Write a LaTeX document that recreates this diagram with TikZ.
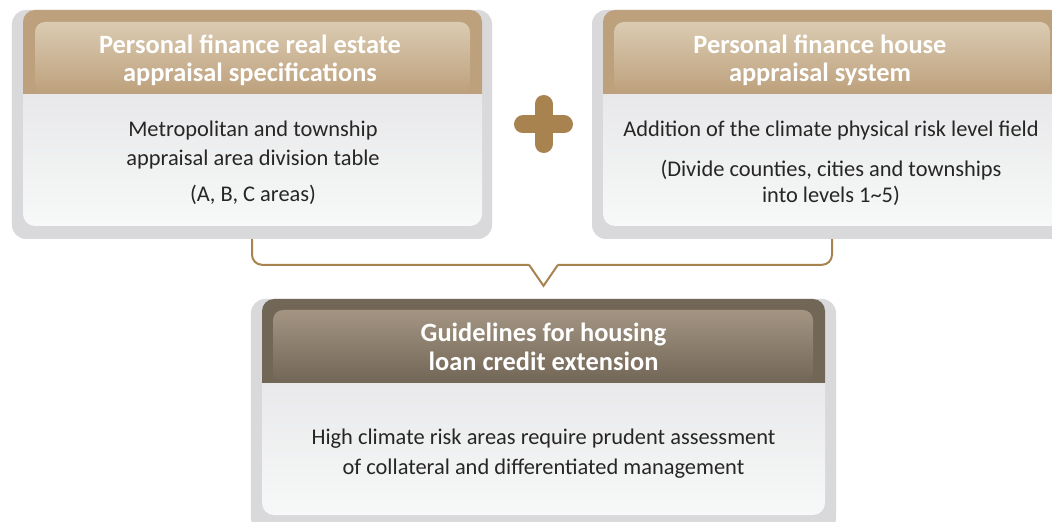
\documentclass[tikz,border=0pt]{standalone}
\usepackage{fontspec}
\setmainfont{Carlito}
\usetikzlibrary{calc}
\usetikzlibrary{positioning}
\definecolor{tanframe}{HTML}{BDA07C}
\definecolor{tanlight}{HTML}{DACBB2}
\definecolor{brownframe}{HTML}{726656}
\definecolor{brownlight}{HTML}{A49583}
\definecolor{shadowgray}{HTML}{D9D9DB}
\definecolor{bodytop}{HTML}{E4E4E6}
\definecolor{bodybottom}{HTML}{F7F8F8}
\definecolor{accent}{HTML}{A8834F}
\definecolor{textgray}{HTML}{262626}
\tikzset{
	shadowbox/.style={
		rectangle,
		rounded corners=14bp,
		fill=shadowgray,
		inner sep=0pt},
	headtext/.style={
		text=white,
		align=center,
		font=\fontsize{26.5}{28.5}\selectfont\bfseries},
	bodytext/.style={
		text=textgray,
		align=center,
		font=\fontsize{22.5}{30}\selectfont},
	panelbody/.style={
		rounded corners=12bp,
		top color=bodytop,
		bottom color=bodybottom},
	bracket/.style={draw=accent, line width=2bp},
}

\begin{document}
\begin{tikzpicture}[x=1bp,y=-1bp]
	\useasboundingbox (0,0) rectangle (1052,522);
	\clip (0,0) rectangle (1052,522);
	% left panel
	\node[shadowbox, minimum width=480bp, minimum height=229bp] (specbox) at (252,124.5) {};
	\shade[panelbody] (23,60) rectangle (482,226);
	\begin{scope}
		\clip (23,10) rectangle (482,94);
		\fill[tanframe, rounded corners=12bp] (23,10) rectangle (482,130);
	\end{scope}
	\shade[rounded corners=10bp, top color=tanlight, bottom color=tanframe] (35,22) rectangle (470,94);
	\node[headtext] (spechead) at (250,60) {Personal finance real estate\\appraisal specifications};
	\node[bodytext] (specbody) at (253,145) {Metropolitan and township\\appraisal area division table};
	\node[bodytext, below=9bp of specbody] (specnote) {(A, B, C areas)};
	% right panel
	\node[shadowbox, minimum width=480bp, minimum height=229bp] (housebox) at (832,124.5) {};
	\shade[panelbody] (603,60) rectangle (1062,226);
	\begin{scope}
		\clip (603,10) rectangle (1062,94);
		\fill[tanframe, rounded corners=12bp] (603,10) rectangle (1062,130);
	\end{scope}
	\shade[rounded corners=10bp, top color=tanlight, bottom color=tanframe] (614,22) rectangle (1050,94);
	\node[headtext] (househead) at (820,60) {Personal finance house\\appraisal system};
	\node[bodytext] (houseadd) at (831,131) {Addition of the climate physical risk level field};
	\node[bodytext, font=\fontsize{22.5}{27}\selectfont, below=12bp of houseadd] (housenote) {(Divide counties, cities and townships\\into levels 1\textasciitilde5)};
	% plus sign
	\draw[accent, line width=18bp, line cap=round] (523,124.5) -- (564,124.5) (543.5,104) -- (543.5,144);
	% bottom panel
	\node[shadowbox, minimum width=585bp, minimum height=233bp] (guidebox) at (543.5,415.5) {};
	\shade[panelbody] (262,340) rectangle (825,515);
	\begin{scope}
		\clip (262,299) rectangle (825,382);
		\fill[brownframe, rounded corners=12bp] (262,299) rectangle (825,420);
	\end{scope}
	\shade[rounded corners=10bp, top color=brownlight, bottom color=brownframe] (273,310) rectangle (813,382);
	\node[headtext] (guidehead) at (543.5,347) {Guidelines for housing\\loan credit extension};
	\node[bodytext] (guidebody) at (543.5,453.5) {High climate risk areas require prudent assessment\\of collateral and differentiated management};
	% bracket
	\coordinate (notchL) at ($(guidebox.north)+(-14.5,-34)$);
	\coordinate (notchR) at ($(guidebox.north)+(14.5,-34)$);
	\coordinate (notchtip) at ($(guidebox.north)+(0,-13)$);
	\draw[bracket, rounded corners=10bp] (specbox.south) |- (notchL);
	\draw[bracket] (notchL) -- (notchtip) -- (notchR);
	\draw[bracket, rounded corners=10bp] (notchR) -| (housebox.south);
\end{tikzpicture}
\end{document}
